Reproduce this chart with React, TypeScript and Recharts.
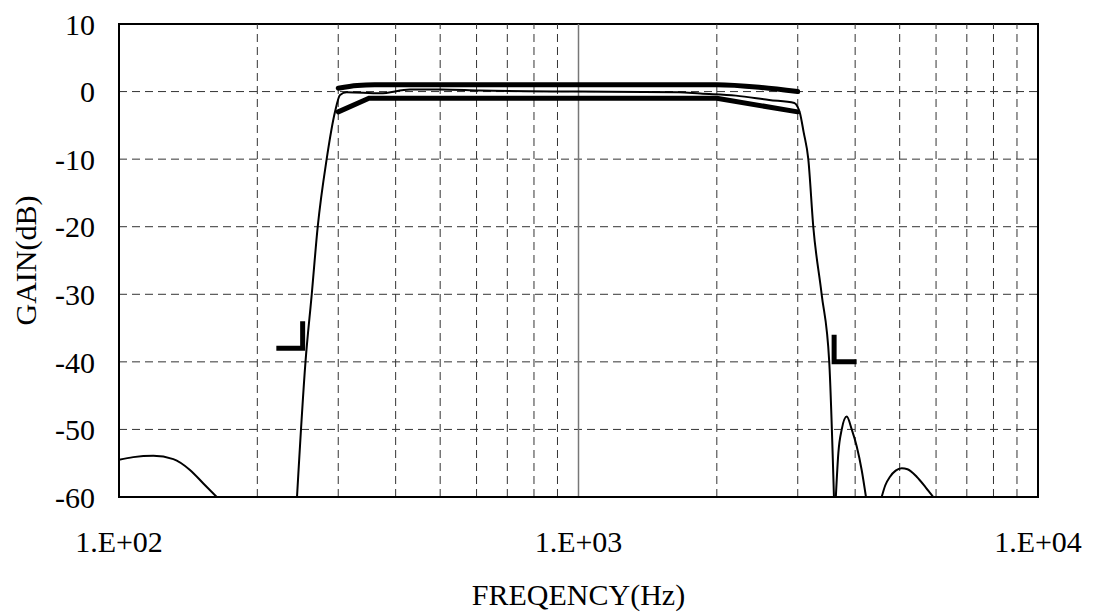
import { LineChart, Line, XAxis, YAxis, ReferenceLine, ReferenceArea } from 'recharts';

// frequency (Hz) / gain (dB)
const lobeLeftF = [100, 107.4, 118.8, 131.3, 142.7, 152.6, 163.2];
const lobeLeftG = [-54.5, -54.1, -53.9, -54.4, -56, -58, -60];

const responseF = [244, 254.6, 262.7, 270.7, 283.1, 295.2, 302.7, 313, 370, 430, 500, 611, 1000, 1654, 1840, 2200, 2600, 2950, 3000, 3034, 3090, 3163, 3243, 3382, 3513, 3597];
const responseG = [-60, -40, -30, -20, -10, -3, -0.5, -0.1, -0.25, 0.3, 0.3, 0.15, 0, -0.1, -0.3, -0.6, -1.25, -1.7, -2.3, -3.2, -6, -10, -20, -30, -40, -60];

const lobe1F = [3631, 3677, 3740, 3835, 3932, 4031, 4133, 4223];
const lobe1G = [-60, -53.5, -50, -48.1, -50, -52.5, -56, -60];

const lobe2F = [4569, 4650, 4764, 4900, 5051, 5200, 5445, 5700, 5918];
const lobe2G = [-60, -58.3, -57, -56.1, -55.75, -55.9, -57, -58.6, -60];

const upperMaskF = [300, 330, 360, 2000, 2500, 3000];
const upperMaskG = [0.5, 0.9, 1, 1, 0.6, 0];

const lowerMaskF = [300, 350, 2000, 3000];
const lowerMaskG = [-3, -1, -1, -3];

const stopLowF = [220, 251, 251];
const stopLowG = [-38, -38, -34];

const stopHighF = [3600, 3600, 4030];
const stopHighG = [-36, -40, -40];

const xTicks = [100, 1000, 10000];
const yTicks = [-60, -50, -40, -30, -20, -10, 0, 10];
const xGrid = [200, 300, 400, 500, 600, 700, 800, 900, 2000, 3000, 4000, 5000, 6000, 7000, 8000, 9000];
const yGrid = [-50, -40, -30, -20, -10, 0];

const zip = (f: number[], g: number[]) => f.map((v, i) => ({ f: v, g: g[i] }));

const serif = '"Liberation Serif", "Times New Roman", Times, serif';
const font = { fontSize: 30, fill: '#000', fontFamily: serif, style: { fontFamily: serif } };

const fmt = (v: number) => `1.E+${String(Math.round(Math.log10(v))).padStart(2, '0')}`;

const YLabel = (props: any) => {
  const vb = props.viewBox;
  const x = vb.x + 36;
  const y = vb.y + vb.height / 2;
  return (
    <text x={x} y={y} transform={`rotate(-90 ${x} ${y})`} textAnchor="middle" fontSize={30} fill="#000" style={{ fontFamily: serif }}>
      GAIN(dB)
    </text>
  );
};

export default function App() {
  return (
    <div style={{ position: 'absolute', left: 0, top: 0, background: '#fff', fontFamily: serif }}>
      <LineChart width={1094} height={616} margin={{ top: 24, right: 56, left: 0, bottom: 0 }} style={{ fontFamily: serif }}>
        <XAxis
          dataKey="f"
          type="number"
          scale="log"
          domain={[100, 10000]}
          allowDataOverflow
          ticks={xTicks}
          interval={0}
          tickFormatter={fmt}
          tick={font}
          tickLine={false}
          tickSize={0}
          tickMargin={34}
          height={119}
          axisLine={{ stroke: '#000', strokeWidth: 2 }}
          label={{ value: 'FREQENCY(Hz)', position: 'insideBottom', offset: 11, ...font }}
        />
        <YAxis
          type="number"
          domain={[-60, 10]}
          allowDataOverflow
          ticks={yTicks}
          interval={0}
          tick={font}
          tickLine={false}
          tickSize={0}
          tickMargin={24}
          width={119}
          axisLine={{ stroke: '#000', strokeWidth: 2 }}
          label={<YLabel />}
        />
        {xGrid.map((v) => (
          <ReferenceLine key={'x' + v} x={v} stroke="#333" strokeWidth={1} strokeDasharray="8 5" />
        ))}
        {yGrid.map((v) => (
          <ReferenceLine key={'y' + v} y={v} stroke="#333" strokeWidth={1} strokeDasharray="8 5" />
        ))}
        <ReferenceLine x={1000} stroke="#777" strokeWidth={1.5} />

        <Line data={zip(lobeLeftF, lobeLeftG)} dataKey="g" type="monotone" stroke="#000" strokeWidth={2} dot={false} isAnimationActive={false} />
        <Line data={zip(responseF, responseG)} dataKey="g" type="monotone" stroke="#000" strokeWidth={2} dot={false} isAnimationActive={false} />
        <Line data={zip(lobe1F, lobe1G)} dataKey="g" type="monotone" stroke="#000" strokeWidth={2} dot={false} isAnimationActive={false} />
        <Line data={zip(lobe2F, lobe2G)} dataKey="g" type="monotone" stroke="#000" strokeWidth={2} dot={false} isAnimationActive={false} />
        <Line data={zip(upperMaskF, upperMaskG)} dataKey="g" type="monotone" stroke="#000" strokeWidth={5} strokeLinecap="round" dot={false} isAnimationActive={false} />
        <Line data={zip(lowerMaskF, lowerMaskG)} dataKey="g" type="linear" stroke="#000" strokeWidth={5} strokeLinecap="round" dot={false} isAnimationActive={false} />
        <Line data={zip(stopLowF, stopLowG)} dataKey="g" type="linear" stroke="#000" strokeWidth={5} dot={false} isAnimationActive={false} />
        <Line data={zip(stopHighF, stopHighG)} dataKey="g" type="linear" stroke="#000" strokeWidth={5} dot={false} isAnimationActive={false} />

        <ReferenceArea x1={100} x2={10000} y1={-60} y2={10} fill="none" stroke="#000" strokeWidth={2} />
      </LineChart>
    </div>
  );
}
